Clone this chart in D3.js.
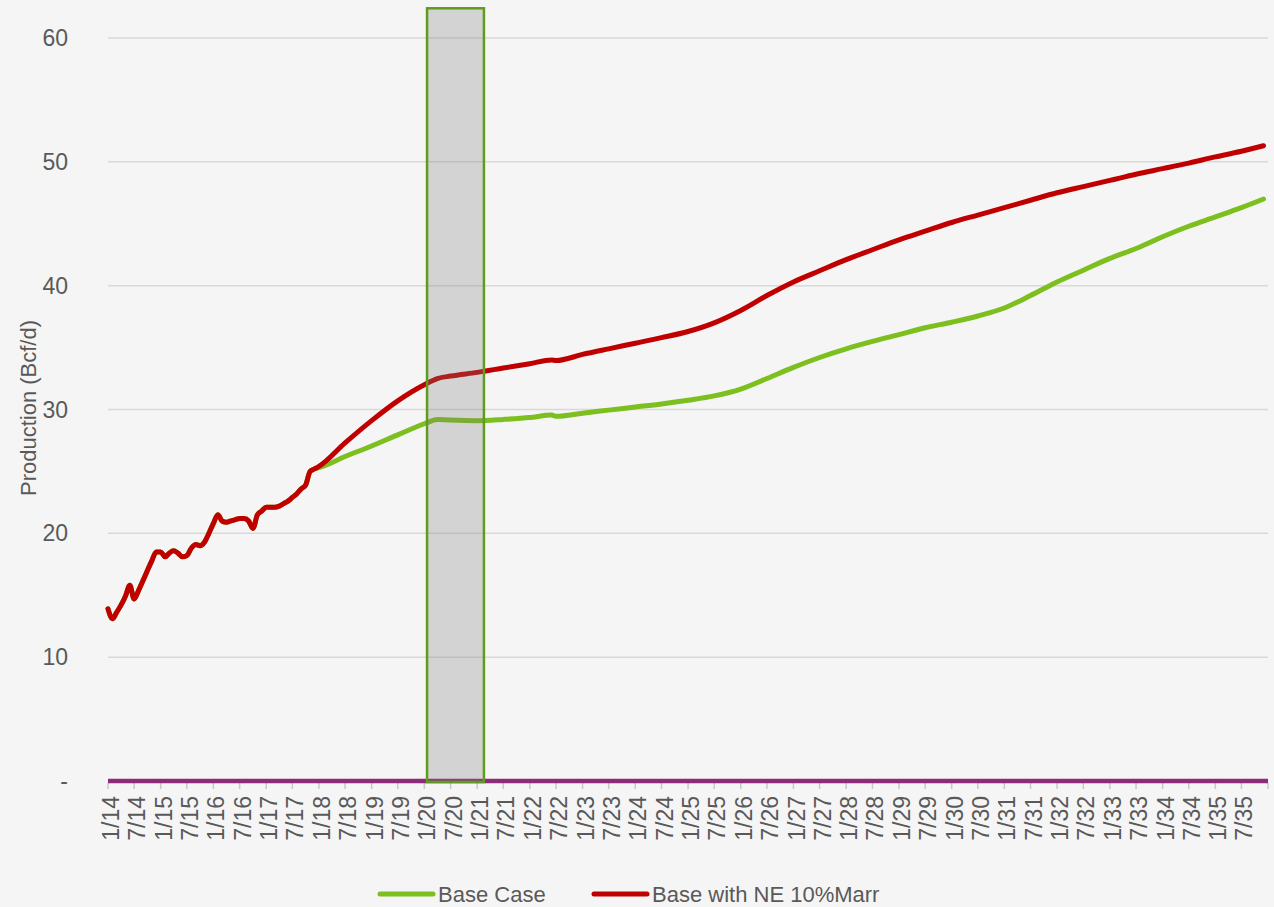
<!DOCTYPE html>
<html><head><meta charset="utf-8">
<script src="https://cdn.jsdelivr.net/npm/d3@7"></script>
<style>
html,body{margin:0;padding:0;background:#f5f5f5;}
svg{display:block;font-family:"Liberation Sans",Arial,sans-serif;}
</style></head>
<body><svg id="c" width="1274" height="907"></svg>
<script>
// ---- data ----
const histDates = ["2014-01","2014-02","2014-03","2014-04","2014-05","2014-06","2014-07","2014-08","2014-09","2014-10","2014-11","2014-12",
"2015-01","2015-02","2015-03","2015-04","2015-05","2015-06","2015-07","2015-08","2015-09","2015-10","2015-11","2015-12",
"2016-01","2016-02","2016-03","2016-04","2016-05","2016-06","2016-07","2016-08","2016-09","2016-10","2016-11","2016-12",
"2017-01","2017-02","2017-03","2017-04","2017-05","2017-06","2017-07","2017-08","2017-09","2017-10","2017-11","2017-12"];
const histValues = [13.9,13.1,13.6,14.2,14.9,15.8,14.7,15.4,16.2,17.0,17.8,18.5,
18.5,18.1,18.4,18.6,18.4,18.1,18.2,18.8,19.1,19.0,19.3,20.0,
20.8,21.5,21.0,20.9,21.0,21.1,21.2,21.2,21.0,20.4,21.5,21.8,
22.1,22.1,22.1,22.2,22.4,22.6,22.9,23.2,23.6,23.9,25.0,25.2];
const projDates = ["2018-01","2018-07","2019-01","2019-07","2020-01","2020-04","2020-07","2021-01","2021-07","2022-01","2022-06","2022-07",
"2023-01","2023-07","2024-01","2024-07","2025-01","2025-07","2026-01","2026-07","2027-01","2027-07","2028-01","2028-07",
"2029-01","2029-07","2030-01","2030-07","2031-01","2031-07","2032-01","2032-07","2033-01","2033-07","2034-01","2034-07",
"2035-01","2035-07","2035-12"];
const baseCaseValues = [25.3,26.2,27.05,27.95,28.85,29.2,29.15,29.1,29.2,29.35,29.55,29.45,
29.7,29.95,30.2,30.45,30.75,31.1,31.65,32.5,33.4,34.2,34.9,35.5,
36.05,36.6,37.05,37.55,38.2,39.2,40.3,41.25,42.2,43.0,43.95,44.8,
45.55,46.3,47.0];
const neMarrValues = [25.4,27.3,29.1,30.7,32.0,32.5,32.7,33.0,33.35,33.7,34.0,33.95,
34.45,34.9,35.35,35.8,36.3,37.0,38.0,39.2,40.3,41.2,42.1,42.9,
43.7,44.4,45.1,45.7,46.3,46.9,47.5,48.0,48.5,49.0,49.45,49.9,
50.4,50.85,51.3];
const zeroDates = ["2014-01","2036-01"];
const zeroValues = [0,0];
const shadeStart = "2020-01-20", shadeEnd = "2021-02-17", shadeTop = 62.4;
const seriesNames = ["Base Case","Base with NE 10%Marr"];
const yTicks = [0,10,20,30,40,50,60];
const yTitle = "Production (Bcf/d)";

// ---- setup ----
const parse = d3.timeParse("%Y-%m");
const parseDay = d3.timeParse("%Y-%m-%d");
const svg = d3.select("#c");
const L = 108, R = 1268, T = 38, B = 781;
const x = d3.scaleTime().domain([parse("2014-01"), parse("2036-01")]).range([L, R]);
const y = d3.scaleLinear().domain([0, 60]).range([B, T]);

const textColor = "#595959";
// gridlines
svg.append("g").selectAll("line").data(yTicks.filter(d => d > 0)).join("line")
  .attr("x1", L).attr("x2", R).attr("y1", d => y(d)).attr("y2", d => y(d))
  .attr("stroke", "#d9d9d9").attr("stroke-width", 1.5);
// y labels
svg.append("g").selectAll("text").data(yTicks).join("text")
  .attr("x", 68).attr("y", d => y(d)).attr("dy", "0.35em")
  .attr("text-anchor", "end").attr("fill", textColor).attr("font-size", 23)
  .text(d => d === 0 ? "-" : d);
// y title
svg.append("text").attr("transform", `translate(36,408) rotate(-90)`)
  .attr("text-anchor", "middle").attr("fill", textColor).attr("font-size", 22)
  .text(yTitle);

// x axis ticks
const xTickDates = d3.timeMonth.every(6).range(parse("2014-01"), parse("2036-02"));
svg.append("line").attr("x1", L).attr("x2", R).attr("y1", B).attr("y2", B)
  .attr("stroke", "#bfbfbf").attr("stroke-width", 1);
svg.append("g").selectAll("line").data(xTickDates).join("line")
  .attr("x1", d => x(d)).attr("x2", d => x(d)).attr("y1", B + 2).attr("y2", B + 8)
  .attr("stroke", "#c8c8c8").attr("stroke-width", 1.5);
const fmt = d => (d.getMonth() + 1) + "/" + d3.timeFormat("%y")(d);
svg.append("g").selectAll("text").data(xTickDates.filter(d => d < parse("2036-01"))).join("text")
  .attr("transform", d => `translate(${x(d) + 3},${B + 15}) rotate(-90)`)
  .attr("dy", "0.35em").attr("text-anchor", "end")
  .attr("fill", textColor).attr("font-size", 23)
  .text(fmt);

// lines
const line = d3.line().x(d => x(d[0])).y(d => y(d[1])).curve(d3.curveMonotoneX);
const hist = histDates.map((d, i) => [parse(d), histValues[i]]);
const green = hist.concat(projDates.map((d, i) => [parse(d), baseCaseValues[i]]));
const red = hist.concat(projDates.map((d, i) => [parse(d), neMarrValues[i]]));
const zero = zeroDates.map((d, i) => [parse(d), zeroValues[i]]);
const colors = ["#7cbf1e", "#c00000"];

svg.append("path").datum(zero).attr("d", d3.line().x(d => x(d[0])).y(d => y(d[1])))
  .attr("fill", "none").attr("stroke", "#8a2c78").attr("stroke-width", 4.5);
svg.append("path").datum(green).attr("d", line).attr("fill", "none")
  .attr("stroke", colors[0]).attr("stroke-width", 5).attr("stroke-linejoin", "round").attr("stroke-linecap", "round");
svg.append("path").datum(red).attr("d", line).attr("fill", "none")
  .attr("stroke", colors[1]).attr("stroke-width", 5).attr("stroke-linejoin", "round").attr("stroke-linecap", "round");

// shaded box
const xs = x(parseDay(shadeStart)), xe = x(parseDay(shadeEnd));
svg.append("rect").attr("x", xs).attr("y", y(shadeTop)).attr("width", xe - xs).attr("height", B + 1 - y(shadeTop))
  .attr("fill", "rgb(121,121,121)").attr("fill-opacity", 0.27)
  .attr("stroke", "#5f9c1e").attr("stroke-width", 2.5);

// legend
const leg = [{x: 380, name: seriesNames[0], c: colors[0]}, {x: 594, name: seriesNames[1], c: colors[1]}];
const lg = svg.append("g");
leg.forEach(l => {
  lg.append("line").attr("x1", l.x).attr("x2", l.x + 53).attr("y1", 894).attr("y2", 894)
    .attr("stroke", l.c).attr("stroke-width", 5).attr("stroke-linecap", "round");
  lg.append("text").attr("x", l.x + 58).attr("y", 894).attr("dy", "0.35em")
    .attr("fill", textColor).attr("font-size", 22).text(l.name);
});
</script></body></html>
